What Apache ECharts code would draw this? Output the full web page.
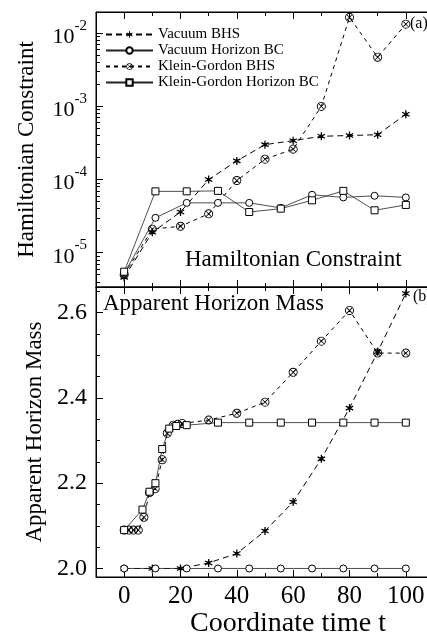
<!DOCTYPE html>
<html><head><meta charset="utf-8">
<script src="https://cdn.jsdelivr.net/npm/echarts@6/dist/echarts.min.js"></script>
<style>html,body{margin:0;padding:0;background:#fff}#c{width:427px;height:632px}</style>
</head><body><div id="c"></div>
<script>
// ---------- data ----------
const seriesNames = ['Vacuum BHS', 'Vacuum Horizon BC', 'Klein-Gordon BHS', 'Klein-Gordon Horizon BC'];
const xTickValues = [0, 20, 40, 60, 80, 100];
const xMinorTickValues = [10, 30, 50, 70, 90];
const hamTickValues = [1e-5, 1e-4, 1e-3, 1e-2];
const massTickValues = [2.0, 2.2, 2.4, 2.6];
const massMinorTickValues = [2.05, 2.1, 2.15, 2.25, 2.3, 2.35, 2.45, 2.5, 2.55, 2.65];

// Hamiltonian constraint (top panel)
const timeBHS = [0, 10, 20, 30, 40, 50, 60, 70, 80, 90, 100];
const timeHorizon = [0, 11.1, 22.2, 33.3, 44.4, 55.6, 66.7, 77.8, 88.9, 100];
const hamVacuumBHS = [4.6e-6, 1.9e-5, 3.6e-5, 1.0e-4, 1.8e-4, 3.0e-4, 3.4e-4, 3.9e-4, 4.0e-4, 4.1e-4, 7.8e-4];
const hamVacuumHorizon = [5.2e-6, 3.0e-5, 4.8e-5, 4.8e-5, 4.8e-5, 4.1e-5, 6.2e-5, 5.7e-5, 6.0e-5, 5.7e-5];
const hamKGBHS = [5.0e-6, 2.1e-5, 2.3e-5, 3.4e-5, 9.7e-5, 1.9e-4, 2.6e-4, 1.0e-3, 1.65e-2, 4.7e-3, 1.33e-2];
const hamKGHorizon = [5.5e-6, 6.9e-5, 6.9e-5, 7.0e-5, 3.6e-5, 4.0e-5, 5.2e-5, 7.0e-5, 3.8e-5, 4.5e-5];

// Apparent horizon mass (bottom panel)
const massVacuumBHS = [2.0, 2.0, 2.0, 2.013, 2.035, 2.088, 2.156, 2.257, 2.376, 2.508, 2.645];
const massVacuumHorizon = [2.0, 2.0, 2.0, 2.0, 2.0, 2.0, 2.0, 2.0, 2.0, 2.0];
const massTimeKGBHS = [0, 1.7, 3.3, 5, 7, 9, 11, 13.5, 15.3, 17.4, 19, 20.6, 30, 40, 50, 60, 70, 80, 90, 100];
const massKGBHS = [2.09, 2.09, 2.09, 2.09, 2.12, 2.178, 2.187, 2.255, 2.317, 2.336, 2.338, 2.34, 2.348, 2.364, 2.39, 2.46, 2.533, 2.605, 2.505, 2.505];
const massTimeKGHorizon = [0, 6.5, 9, 11.1, 13.5, 16, 18.5, 22.2, 33.3, 44.4, 55.6, 66.7, 77.8, 88.9, 100];
const massKGHorizon = [2.09, 2.138, 2.18, 2.2, 2.28, 2.328, 2.334, 2.336, 2.342, 2.342, 2.342, 2.342, 2.342, 2.342, 2.342];

// ---------- styling ----------
const FONT = '"Liberation Serif", "DejaVu Serif", serif';
const STAR = 'path://M8.5 0L11.5 0L11.5 20L8.5 20Z M17.91 3.7L19.41 6.3L2.09 16.3L0.59 13.7Z M19.41 13.7L17.91 16.3L0.59 6.3L2.09 3.7Z M6 6L14 6L14 14L6 14Z';
const OTIMES = 'path://M0 10A10 10 0 1 1 20 10A10 10 0 1 1 0 10Z M2 10A8 8 0 1 0 18 10A8 8 0 1 0 2 10Z M3.6 4.9L4.9 3.6L16.4 15.1L15.1 16.4Z M15.1 3.6L16.4 4.9L4.9 16.4L3.6 15.1Z';
const black = '#000';

function zip(xs, ys) { return xs.map((x, i) => [x, ys[i]]); }

const hamMinorTicks = [];
for (let k = -6; k <= -2; k++) for (let n = 2; n <= 9; n++) hamMinorTicks.push(n * Math.pow(10, k));

function xAxesFor(grid, showLabels) {
  const base = { gridIndex: grid, type: 'value', min: -10, max: 110, splitLine: { show: false } };
  const axes = [];
  ['bottom', 'top'].forEach(pos => {
    axes.push(Object.assign({}, base, {
      position: pos,
      axisLine: { show: true, onZero: false, lineStyle: { color: black, width: 1 } },
      axisTick: { show: true, inside: true, length: 7, customValues: xTickValues, lineStyle: { color: black } },
      axisLabel: { show: showLabels && pos === 'bottom', customValues: xTickValues, margin: 7,
        fontFamily: FONT, fontSize: 25, color: black },
      name: (showLabels && pos === 'bottom') ? 'Coordinate time t' : '',
      nameLocation: 'middle', nameGap: 19,
      nameTextStyle: { fontFamily: FONT, fontSize: 28, color: black, padding: [0, 0, 0, 46] }
    }));
    axes.push(Object.assign({}, base, {
      position: pos,
      axisLine: { show: false, onZero: false },
      axisTick: { show: true, inside: true, length: 4, customValues: xMinorTickValues, lineStyle: { color: black } },
      axisLabel: { show: false }
    }));
  });
  return axes;
}

const option = {
  animation: false,
  backgroundColor: '#fff',
  grid: [
    { left: 96, top: 12, width: 338, height: 275, show: true, borderColor: black, borderWidth: 1, outerBoundsMode: 'none', containLabel: false },
    { left: 96, top: 287, width: 338, height: 290, show: true, borderColor: black, borderWidth: 1, outerBoundsMode: 'none', containLabel: false }
  ],
  xAxis: xAxesFor(0, false).concat(xAxesFor(1, true)),
  yAxis: [
    { gridIndex: 0, type: 'log', logBase: 10, min: 3.4e-6, max: 0.0195, position: 'left',
      axisLine: { show: true, onZero: false, lineStyle: { color: black } },
      axisTick: { inside: true, length: 7, customValues: hamTickValues, lineStyle: { color: black } },
      axisLabel: { customValues: hamTickValues, margin: 9,
        formatter: v => '{b|10}{s|' + Math.round(Math.log10(v)) + '}',
        rich: {
          b: { fontFamily: FONT, fontSize: 22, color: black, verticalAlign: 'bottom', lineHeight: 30 },
          s: { fontFamily: FONT, fontSize: 15, color: black, verticalAlign: 'top', lineHeight: 16 }
        } },
      splitLine: { show: false },
      name: 'Hamiltonian Constraint', nameLocation: 'middle', nameGap: 58,
      nameTextStyle: { fontFamily: FONT, fontSize: 23, color: black } },
    { gridIndex: 0, type: 'log', logBase: 10, min: 3.4e-6, max: 0.0195, position: 'left',
      axisLine: { show: false, onZero: false },
      axisTick: { inside: true, length: 4, customValues: hamMinorTicks, lineStyle: { color: black } },
      axisLabel: { show: false }, splitLine: { show: false } },
    { gridIndex: 1, type: 'value', min: 1.98, max: 2.66, position: 'left',
      axisLine: { show: true, onZero: false, lineStyle: { color: black } },
      axisTick: { inside: true, length: 7, customValues: massTickValues, lineStyle: { color: black } },
      axisLabel: { customValues: massTickValues, margin: 9, formatter: v => v.toFixed(1),
        fontFamily: FONT, fontSize: 24, color: black },
      splitLine: { show: false },
      name: 'Apparent Horizon Mass', nameLocation: 'middle', nameGap: 42,
      nameTextStyle: { fontFamily: FONT, fontSize: 23, color: black } },
    { gridIndex: 1, type: 'value', min: 1.98, max: 2.66, position: 'left',
      axisLine: { show: false, onZero: false },
      axisTick: { inside: true, length: 4, customValues: massMinorTickValues, lineStyle: { color: black } },
      axisLabel: { show: false }, splitLine: { show: false } }
  ],
  legend: {
    data: seriesNames, orient: 'vertical', left: 100, top: 22,
    itemWidth: 47, itemHeight: 8, itemGap: 1,
    textStyle: { fontFamily: FONT, fontSize: 15, color: black, lineHeight: 15 }
  },
  graphic: [
    { type: 'text', left: 185, top: 248, style: { text: 'Hamiltonian Constraint', font: '23px "Liberation Serif"', fill: black } },
    { type: 'text', left: 103, top: 292, style: { text: 'Apparent Horizon Mass', font: '23px "Liberation Serif"', fill: black } },
    { type: 'text', left: 410, top: 16, style: { text: '(a)', font: '16px "Liberation Serif"', fill: black } },
    { type: 'text', left: 413, top: 289, style: { text: '(b)', font: '16px "Liberation Serif"', fill: black } }
  ],
  series: []
};

const styles = [
  { symbol: STAR, symbolSize: 8, lineStyle: { color: black, width: 1, type: [6, 4] }, itemStyle: { color: black } },
  { symbol: 'circle', symbolSize: 7, lineStyle: { color: '#222', width: 0.8 }, itemStyle: { color: '#fff', borderColor: black, borderWidth: 1 } },
  { symbol: OTIMES, symbolSize: 9, lineStyle: { color: black, width: 1, type: [4, 4] }, itemStyle: { color: black } },
  { symbol: 'rect', symbolSize: 7, lineStyle: { color: '#222', width: 0.8 }, itemStyle: { color: '#fff', borderColor: black, borderWidth: 1 } }
];
const topData = [zip(timeBHS, hamVacuumBHS), zip(timeHorizon, hamVacuumHorizon), zip(timeBHS, hamKGBHS), zip(timeHorizon, hamKGHorizon)];
const botData = [zip(timeBHS, massVacuumBHS), zip(timeHorizon, massVacuumHorizon), zip(massTimeKGBHS, massKGBHS), zip(massTimeKGHorizon, massKGHorizon)];

seriesNames.forEach((name, i) => {
  option.series.push(Object.assign({ type: 'line', name, xAxisIndex: 0, yAxisIndex: 0, data: topData[i], showAllSymbol: true }, styles[i]));
  option.series.push(Object.assign({ type: 'line', name, xAxisIndex: 4, yAxisIndex: 2, data: botData[i], showAllSymbol: true }, styles[i]));
});

const chart = echarts.init(document.getElementById('c'), null, { renderer: 'canvas' });
chart.setOption(option);
</script></body></html>
